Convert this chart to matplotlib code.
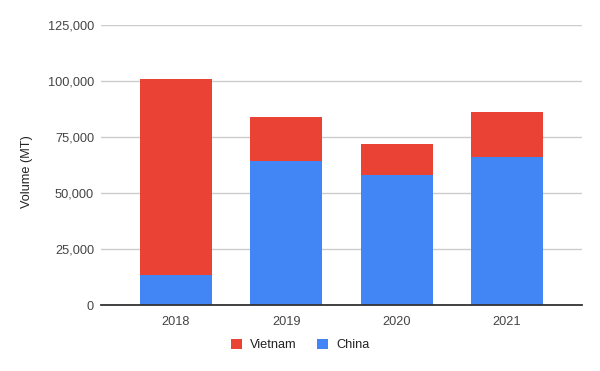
import matplotlib
matplotlib.use("Agg")
import matplotlib.pyplot as plt
from matplotlib.ticker import FuncFormatter
from matplotlib.patches import Patch

years = ["2018", "2019", "2020", "2021"]
china = [13400, 64300, 58000, 65900]
vietnam_total = [100800, 83800, 71700, 86000]
vietnam = [t - c for t, c in zip(vietnam_total, china)]
yticks = [0, 25000, 50000, 75000, 100000, 125000]

plt.rcParams['font.family'] = ['Liberation Sans', 'DejaVu Sans']

fig = plt.figure(figsize=(6, 3.71), dpi=100)
ax = fig.add_axes([101/600, 1 - 305/371, 481/600, 280/371])

x = list(range(len(years)))
blue = "#4285F4"
red = "#EA4335"
ax.bar(x, china, width=0.65, color=blue, zorder=3)
ax.bar(x, vietnam, width=0.65, bottom=china, color=red, zorder=3)

ax.set_xlim(-0.68, 3.68)
ax.set_ylim(0, 125000)
ax.set_yticks(yticks)
ax.yaxis.set_major_formatter(FuncFormatter(lambda v, p: f"{int(v):,}"))
ax.set_xticks(x)
ax.set_xticklabels(years)

ax.grid(axis='y', color='#cccccc', linewidth=1, zorder=0)
for s in ['top', 'right', 'left']:
    ax.spines[s].set_visible(False)
ax.spines['bottom'].set_color('#333333')
ax.spines['bottom'].set_linewidth(1.3)
ax.spines['bottom'].set_zorder(4)

ax.tick_params(axis='both', length=0, labelsize=9.2, labelcolor='#444444')
ax.tick_params(axis='y', pad=5)
ax.tick_params(axis='x', pad=8)

ax.set_ylabel("Volume (MT)", fontsize=9.2, color='#222222')
ax.yaxis.set_label_coords(-0.141, 0.475)

handles = [Patch(facecolor=red, edgecolor='none'), Patch(facecolor=blue, edgecolor='none')]
fig.legend(handles, ["Vietnam", "China"], loc='center', bbox_to_anchor=(0.5, 1 - 345/371),
           ncol=2, frameon=False, fontsize=9.2, handlelength=0.9, handleheight=0.9,
           handletextpad=0.6, columnspacing=1.6, labelcolor='#222222')

fig.savefig("out.png", dpi=100)
